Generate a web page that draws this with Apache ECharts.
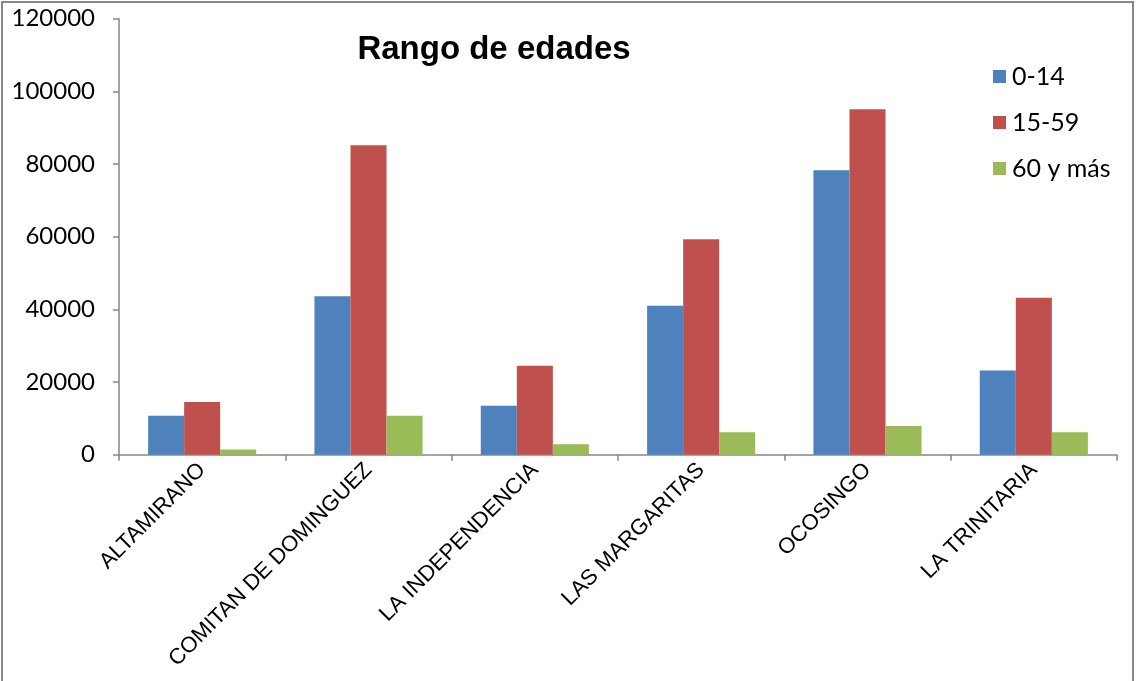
<!DOCTYPE html>
<html>
<head>
<meta charset="utf-8">
<script src="https://cdn.jsdelivr.net/npm/echarts@6/dist/echarts.min.js"></script>
<style>
  html, body { margin: 0; padding: 0; background: #fff; }
  #chart { width: 1136px; height: 681px; }
</style>
</head>
<body>
<div id="chart"></div>
<script>
// Población por rango de edad, municipios de la región
const municipios = ['ALTAMIRANO', 'COMITAN DE DOMINGUEZ', 'LA INDEPENDENCIA', 'LAS MARGARITAS', 'OCOSINGO', 'LA TRINITARIA'];
const edad0a14   = [10700, 43600, 13500, 41000, 78300, 23200];
const edad15a59  = [14500, 85200, 24500, 59300, 95100, 43200];
const edad60mas  = [1400, 10700, 2900, 6200, 7900, 6200];
const seriesNames = ['0-14', '15-59', '60 y más'];
const colores = ['#4F81BD', '#C0504D', '#9BBB59'];

const axisGray = '#868686';
const chart = echarts.init(document.getElementById('chart'), null, { renderer: 'canvas' });

const valores = [edad0a14, edad15a59, edad60mas];

chart.setOption({
  animation: false,
  backgroundColor: '#fff',
  title: {
    text: 'Rango de edades',
    left: 489,
    top: 28,
    textAlign: 'center',
    textStyle: { fontFamily: 'Liberation Sans, Arial', fontWeight: 'bold', fontSize: 33, color: '#000' }
  },
  legend: {
    orient: 'vertical',
    left: 988,
    top: 59,
    itemWidth: 13,
    itemHeight: 13,
    itemGap: 21,
    icon: 'rect',
    data: seriesNames,
    textStyle: { fontFamily: 'Lato, Carlito, sans-serif', fontSize: 25, color: '#000', padding: [0, 0, 0, 1] }
  },
  graphic: [{
    type: 'rect',
    shape: { x: 2, y: 2, width: 1131, height: 680 },
    style: { fill: 'none', stroke: '#878787', lineWidth: 2 },
    silent: true
  }],
  grid: { left: 119, top: 18.7, right: 19, bottom: 226.3, containLabel: false },
  xAxis: {
    type: 'category',
    data: municipios,
    axisLine: { lineStyle: { color: axisGray, width: 1.5 } },
    axisTick: { show: true, length: 6, alignWithLabel: false, lineStyle: { color: axisGray, width: 1.5 } },
    axisLabel: {
      rotate: 45,
      interval: 0,
      margin: 12,
      fontFamily: 'Liberation Sans, Arial',
      fontSize: 22,
      color: '#000'
    }
  },
  yAxis: {
    type: 'value',
    min: 0,
    max: 120000,
    interval: 20000,
    axisLine: { show: true, lineStyle: { color: axisGray, width: 1.5 } },
    axisTick: { show: true, length: 6, lineStyle: { color: axisGray, width: 1.5 } },
    splitLine: { show: false },
    axisLabel: {
      margin: 24,
      fontFamily: 'Lato, Carlito, sans-serif',
      fontSize: 24,
      color: '#000',
      formatter: v => String(v)
    }
  },
  series: valores.map((v, i) => ({
    name: seriesNames[i],
    type: 'bar',
    data: v,
    barGap: '0%',
    barCategoryGap: '35%',
    itemStyle: { color: colores[i] }
  }))
});
</script>
</body>
</html>
